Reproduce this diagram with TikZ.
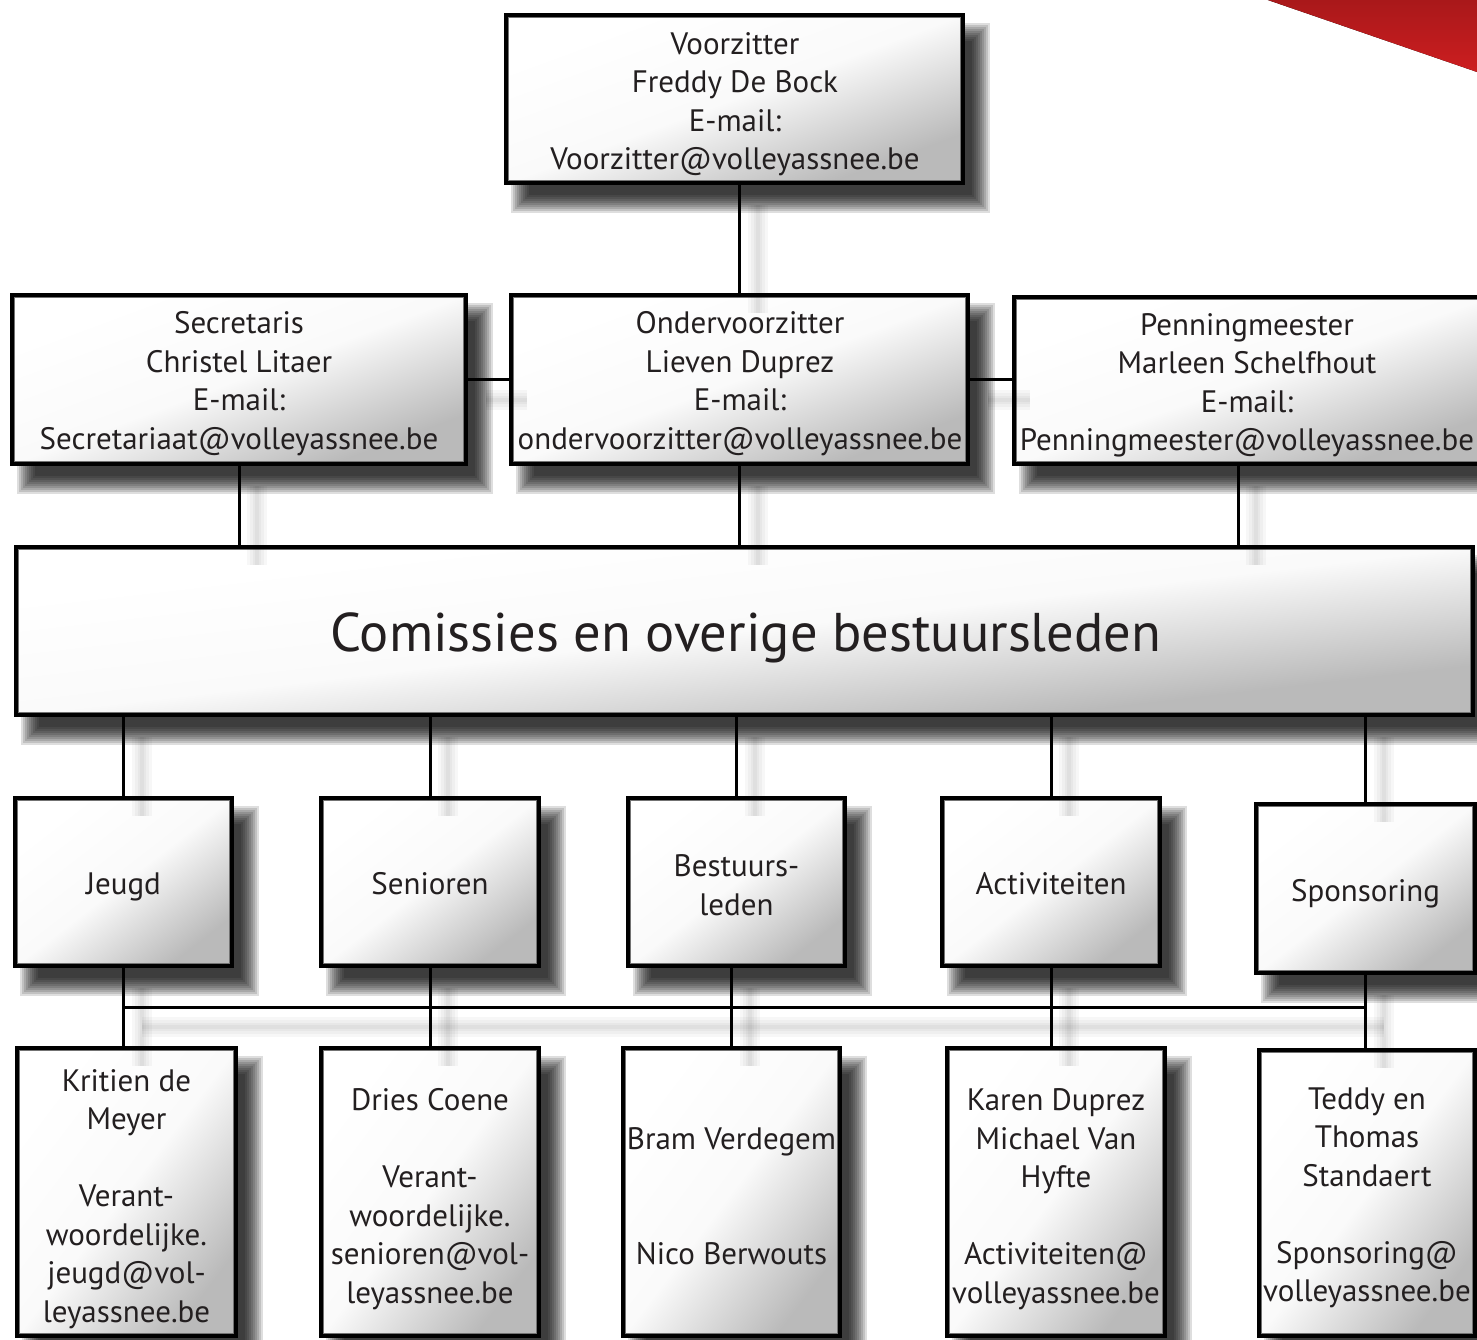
\documentclass[tikz,border=0pt]{standalone}
\usepackage{fontspec}
\setmainfont{PT Sans}
\usetikzlibrary{calc}
\pgfdeclarelayer{bg}
\pgfsetlayers{bg,main}
\definecolor{txtc}{RGB}{35,31,32}
\definecolor{redA}{RGB}{168,24,26}
\definecolor{redB}{RGB}{205,30,32}
\tikzset{
  boxshade/.style={top color=white, bottom color=black!27, middle color=white!98!black, shading angle=45},
  orgframe/.style={draw=black, line width=3.5pt, inner sep=0pt},
  orgtext/.style={align=center, inner sep=0pt, text=txtc, font=\fontsize{31}{38.5}\selectfont},
  conn/.style={draw=black, line width=3pt},
  lsh/.style={draw=black, opacity=0.03, line width=#1},
  innerline/.style={draw=black!55, line width=1.4pt}
}
\newcommand\linkpath[1]{%
  \begin{scope}[transform canvas={shift={(18pt,-20pt)}}]
    \draw[lsh=20pt] #1; \draw[lsh=14pt] #1; \draw[lsh=8pt] #1; \draw[lsh=4pt] #1;
  \end{scope}
  \draw[conn] #1;}
\newcommand\boxshadow[1]{%
  \foreach \e in {9,7,...,-9}{%
    \fill[black,opacity=0.13] ([shift={(16-\e,19-\e)}]#1.north west) rectangle ([shift={(16+\e,19+\e)}]#1.south east);
  }}
% #1 name, #2 cx, #3 cy, #4 w, #5 h, #6 text dx, #7 text dy, #8 text
\newcommand\orgbox[8]{%
  \begin{scope}[transform canvas={shift={(#2pt,-#3pt)},xscale=#4/100,yscale=#5/100}]
    \shade[boxshade] (-50pt,-50pt) rectangle (50pt,50pt);
  \end{scope}
  \node[orgframe, minimum width=#4pt, minimum height=#5pt] (#1) at (#2,#3) {};
  \draw[innerline] ([shift={(4.2,4.2)}]#1.north west) rectangle ([shift={(-4.2,-4.2)}]#1.south east);
  \node[orgtext] (#1-t) at (#2+#6,#3+#7) {#8};
}
\begin{document}
\begin{tikzpicture}[x=1pt,y=-1pt]
\useasboundingbox (0,0) rectangle (1477,1340);

% top level
\orgbox{vz}{734.5}{99}{457}{168}{0.5}{5}{Voorzitter\\Freddy De Bock\\E-mail:\\Voorzitter@volleyassnee.be}
% second level
\orgbox{sec}{239}{379.5}{454}{169}{0}{4}{Secretaris\\Christel Litaer\\E-mail:\\Secretariaat@volleyassnee.be}
\orgbox{ov}{739.5}{379.5}{457}{169}{0.5}{4}{Ondervoorzitter\\Lieven Duprez\\E-mail:\\ondervoorzitter@volleyassnee.be}
\orgbox{pen}{1252}{380.5}{476}{167}{-5}{5}{Penningmeester\\Marleen Schelfhout\\E-mail:\\Penningmeester@volleyassnee.be}
% commissions
\orgbox{com}{744.5}{631}{1457}{168}{1.5}{7}{\fontsize{54.5}{60}\selectfont Comissies en overige bestuursleden}
% third level
\orgbox{jeugd}{123.5}{882}{217}{168}{0}{5}{Jeugd}
\orgbox{sen}{430}{882}{218}{168}{0}{2}{Senioren}
\orgbox{best}{736.5}{882}{217}{168}{0}{3}{Bestuurs-\\leden}
\orgbox{act}{1051}{882}{218}{168}{0}{2}{Activiteiten}
\orgbox{spons}{1365.5}{888.5}{219}{169}{0}{5}{Sponsoring}
% fourth level
\orgbox{kri}{126.5}{1192}{219}{288}{0}{7}{Kritien de\\Meyer\\[38.5pt]Verant-\\woordelijke.\\jeugd@vol-\\leyassnee.be}
\orgbox{dri}{430}{1192}{218}{288}{0}{7}{Dries Coene\\[38.5pt]Verant-\\woordelijke.\\senioren@vol-\\leyassnee.be}
\orgbox{bra}{731.5}{1192}{217}{288}{0}{4}{Bram Verdegem\\[77pt]Nico Berwouts}
\orgbox{kar}{1056}{1192}{218}{288}{0}{7}{Karen Duprez\\Michael Van\\Hyfte\\[38.5pt]Activiteiten@\\volleyassnee.be}
\orgbox{ted}{1367}{1193}{216}{286}{0}{5}{Teddy en\\Thomas\\Standaert\\[38.5pt]Sponsoring@\\volleyassnee.be}

% background and box shadows
\begin{pgfonlayer}{bg}
\fill[white] (0,0) rectangle (1477,1340);
\foreach \n in {vz,sec,ov,pen,com,jeugd,sen,best,act,spons,kri,dri,bra,kar,ted}
  {\boxshadow{\n}}
\end{pgfonlayer}

% connectors
\coordinate (bar) at (0,1007);
\linkpath{(ov.north |- vz.south) -- (ov.north)}
\linkpath{(sec.east) -- (ov.west)}
\linkpath{(ov.east) -- (ov.east -| pen.west)}
\linkpath{(sec.south) -- (sec.south |- com.north)}
\linkpath{(ov.south) -- (ov.south |- com.north)}
\linkpath{([xshift=-14pt]pen.south) -- ([xshift=-14pt]pen.south |- com.north)}
\foreach \n in {jeugd,sen,best,act,spons}
  {\linkpath{(\n.north |- com.south) -- (\n.north)}}
\linkpath{(jeugd.south |- bar) -- (spons.south |- bar)}
\linkpath{(jeugd.south) -- (jeugd.south |- kri.north)}
\linkpath{(sen.south) -- (sen.south |- dri.north)}
\linkpath{(bra.north |- best.south) -- (bra.north)}
\linkpath{(act.south) -- (act.south |- kar.north)}
\linkpath{(spons.south) -- (spons.south |- ted.north)}

% red corner
\fill[top color=redA, bottom color=redB] (1262,-2) -- (1480,-2) -- (1480,73) -- cycle;
\end{tikzpicture}
\end{document}
